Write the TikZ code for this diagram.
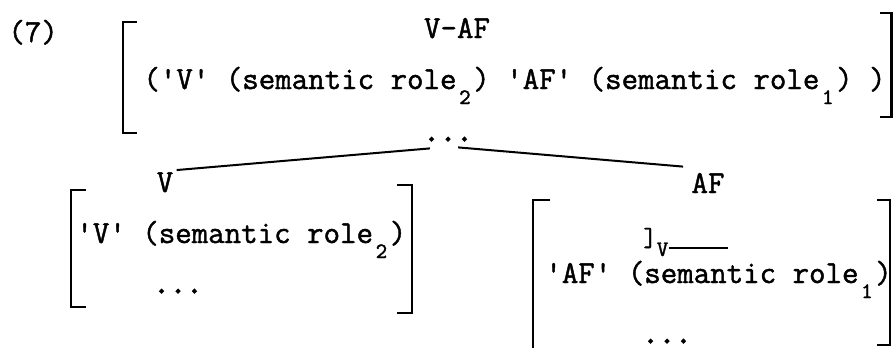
\documentclass[tikz,border=0pt]{standalone}
\usepackage{fontspec}
\setmonofont{Latin Modern Mono}[FakeBold=1.4]
\newfontfamily\heavydots{Latin Modern Mono}[FakeBold=4]
\usepackage{tikz}

\newcommand{\lowsub}[1]{\raisebox{-7.5pt}{\makebox[8.4pt]{\fontsize{11}{11}\selectfont #1}}}

\begin{document}
\begin{tikzpicture}[
  x=0.5pt, y=-0.5pt,
  txt/.style={inner sep=0pt, font=\fontsize{16}{19}\selectfont\ttfamily},
  dots/.style={txt, font=\fontsize{16}{19}\selectfont\heavydots},
  bracket/.style={line width=1.3pt},
  branch/.style={line width=1pt}
]
  \useasboundingbox (0,0) rectangle (893,348);

  % Mother node
  \node[txt, anchor=base west] (num) at (8,42) {(7)};
  \node[txt, anchor=base] (topLbl) at (457,38) {V-AF};
  \node[txt, anchor=base west] (topSem) at (143,89)
    {('V' (semantic role\lowsub{2}) 'AF' (semantic role\lowsub{1}) )};
  \node[dots, anchor=base] (topDots) at (448,141) {...};

  \draw[bracket] (137,22) -- (123,22) -- (123,133) -- (137,133);
  \draw[bracket] (880,13) -- (891.5,13) -- (891.5,117) -- (880,117);

  % Daughters
  \node[txt, anchor=base] (lblV) at (165,192) {V};
  \node[txt, anchor=base] (lblAF) at (708,193) {AF};

  \draw[branch] ([shift={(7,7)}]topDots.south west) -- ([shift={(3,-2)}]lblV.north east);
  \draw[branch] ([shift={(-15,6)}]topDots.south east) -- ([shift={(-8,-6)}]lblAF.north west);

  % Left daughter
  \node[txt, anchor=base west] (leftSem) at (76,243) {'V' (semantic role\lowsub{2})};
  \node[dots, anchor=base] (leftDots) at (178,293) {...};

  \draw[bracket] (86,190) -- (71,190) -- (71,307) -- (86,307);
  \draw[bracket] (397,185) -- (412,185) -- (412,313) -- (397,313);

  % Right daughter
  \node[txt, anchor=base west] (closeV) at (643,246)
    {{\fontsize{13}{13}\selectfont]}\raisebox{-5pt}{\fontsize{11}{11}\selectfont V}};
  \coordinate (gapEnd) at (728,248);
  \draw[branch] ([yshift=-1]closeV.base east) -- (gapEnd);
  \node[txt, anchor=base west] (rightSem) at (545,283) {'AF' (semantic role\lowsub{1})};
  \node[dots, anchor=base] (rightDots) at (667,343) {...};

  \draw[bracket] (550,200) -- (533,200) -- (533,348);
  \draw[bracket] (877,200) -- (890,200) -- (890,345) -- (877,345);
\end{tikzpicture}
\end{document}
